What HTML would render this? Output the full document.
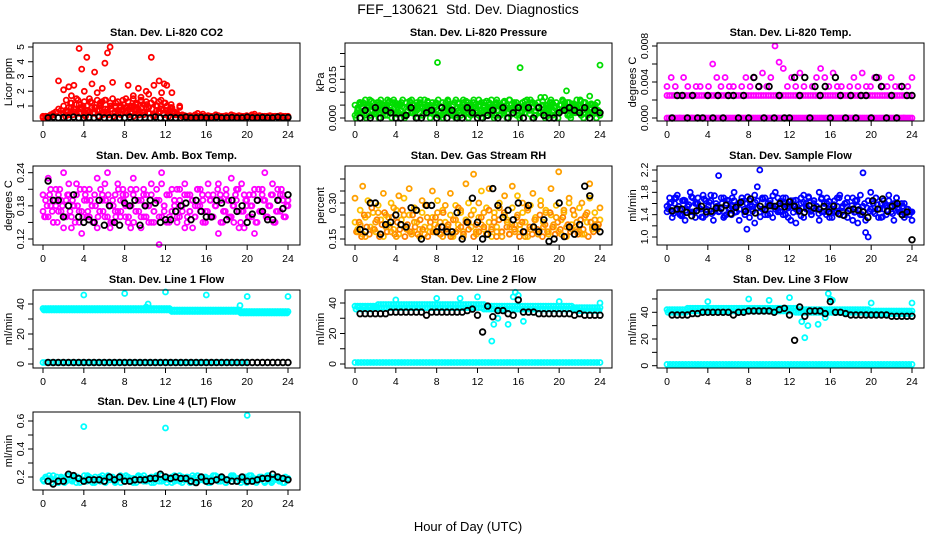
<!DOCTYPE html>
<html><head><meta charset="utf-8">
<style>
html,body{margin:0;padding:0;background:#fff;}
svg{display:block;font-family:"Liberation Sans",Arial,sans-serif;}
</style></head>
<body>
<svg id="chart" width="936" height="540" viewBox="0 0 936 540" xmlns="http://www.w3.org/2000/svg">
<rect width="936" height="540" fill="#fff"/>
<text x="468" y="14" font-size="14" text-anchor="middle" style="white-space:pre">FEF_130621  Std. Dev. Diagnostics</text>
<text x="468" y="531" font-size="13" text-anchor="middle">Hour of Day (UTC)</text>
</svg>
<script>
// ---- data (hours are spread evenly over each series' span) ----
const co2A=[.3,.25,.3,.4,.5,.6,.8,.7,1.0,1.4,.9,1.2,.8,1.5,1.1,.9,1.3,.7,1.5,1.2,.9,1.4,1.0,1.3,1.4,.8,1.2,1.5,1.0,1.3,.9,1.4,.9,1.3,1.0,1.5,1.2,.8,1.4,1.1,1.3,.9,1.2,1.4,1.0,1.3,.8,1.2,1.0,.7,.9,.6,.5,.9,.4,.35,.3,.35,.3,.4,.3,.35,.45,.3,.35,.3,.3,.4,.35,.3,.3,.35,.3,.4,.3,.3,.35,.3,.3,.35,.3,.4,.3,.3,.35,.3,.3,.3,.35,.3,.3,.3,.35,.3,.3,.3];
const co2B=[.2,.3,.2,.3,.4,.6,2.7,.5,2.1,.6,2.3,1.7,2.4,.5,4.9,3.5,2.0,4.3,.6,2.5,3.3,1.9,.7,2.2,3.9,4.6,5.0,2.6,.6,.7,.5,.8,.6,2.4,.5,1.7,.8,2.2,1.6,.6,2.0,1.8,4.3,2.4,.7,2.7,1.9,2.5,2.4,.6,1.9,.5,.4,1.0,.3,.3,.25,.3,.2,.25,.5,.2,.3,.25,.2,.3,.25,.2,.3,.25,.2,.3,.25,.2,.35,.25,.2,.3,.25,.2,.3,.25,.45,.2,.3,.25,.2,.3,.25,.2,.3,.25,.2,.3,.25,.2];
const co2C=[.5,.7,.4,.9,.6,1.1,.5,.8,.4,1.0,.6,.9,.5,.7,1.2,.4,.8,.6,1.0,.5,.9,.7,.4,1.1,.6,.8,.5,1.0,.7,.4,.9,.6,1.1,.5,.8,.4,1.0,.6,.7,1.2,.5,.9,.6,.4];
const co2D=[.3,.6,1.2,.4,.8,1.4,.5,1.0,.3,.7,1.3,.5,.9,.3,1.1,.6,1.4,.4,.8,.3,1.2,.5,1.0,.7,1.5,.4,.9,.3,1.1,.6,1.3,.4,.8,.5,1.2,.3,1.0,.6,1.4,.4,.7,.3,1.1,.5];
const co2K=[.2,.25,.2,.22,.2,.25,.2,.2,.22,.2,.25,.2,.2,.22,.2,.2,.25,.2,.2,.22,.2,.25,.2,.2,.22,.2,.2,.25,.2,.2,.22,.2,.2,.25,.2,.2,.22,.2,.2,.25,.2,.2,.22,.2,.2,.25,.2,.22];

const presA=[.005,.003,.006,.002,.007,.004,.001,.006,.003,.005,.007,.002,.004,.006,.003,.007,.005,.002,.006,.004,.001,.005,.007,.003,.006,.002,.004,.007,.005,.003,.006,.004,.0215,.002,.006,.004,.007,.003,.005,.001,.006,.004,.007,.002,.005,.003,.006,.004,.007,.002,.005,.003,.006,.004,.001,.007,.005,.003,.006,.002,.007,.004,.005,.003,.0195,.006,.002,.005,.007,.004,.003,.006,.008,.002,.005,.004,.007,.003,.006,.002,.005,.004,.0105,.006,.003,.005,.007,.002,.004,.006,.003,.0085,.005,.002,.006,.0205];
const presB=[.001,.004,.002,.006,.003,.005,.001,.004,.002,.006,.003,.005,.001,.004,.006,.002,.005,.003,.001,.006,.004,.002,.005,.003,.006,.001,.004,.002,.005,.003,.006,.001,.004,.002,.005,.003,.001,.006,.004,.002,.005,.003,.006,.001,.004,.002,.005,.003,.006,.001,.004,.002,.005,.003,.001,.006,.004,.002,.005,.003,.006,.001,.004,.002,.005,.003,.006,.001,.004,.002,.005,.003,.001,.006,.004,.002,.005,.003,.006,.001,.004,.002,.005,.003,.001,.006,.004,.002,.005,.003,.006,.001];
const presC=[.002,.006,.004,.001,.005,.007,.003,.002,.006,.004,.005,.001,.007,.003,.002,.006,.004,.005,.007,.001,.003,.006,.002,.004,.005,.007,.001,.003,.006,.004,.002,.005,.007,.001,.003,.006,.004,.002,.005,.007,.003,.001,.006,.004,.002,.005,.007,.003,.001,.006,.004,.002,.005,.007,.003,.006,.001,.004,.002,.005,.007,.003,.006,.001,.004,.002,.005,.007,.003,.006,.001,.004,.002,.005,.008,.003,.006,.001,.004,.002,.005,.007,.003,.006,.001,.004,.002,.005,.007,.003,.006,.001,.004,.002,.005,.003];
const presD=[0,.0035,.0055,.0025,0,.0045,.0065,.0015,.0035,0,.0055,.0025,.0045,.0065,0,.0035,.0015,.0055,.0045,0,.0025,.0065,.0035,.0015,0,.0055,.0045,.0025,.0065,0,.0035,.0015,.0055,.0045,0,.0025,.0065,.0035,.0015,0,.0055,.0045,.0025,.0065,0,.0035,.0015,.0055,.0045,0,.0025,.0065,.0035,.0015,0,.0055,.0045,.0025,.0065,0,.0035,.0015,.0055,.0045,0,.0025,.0065,.0035,.0015,0,.0055,.0045,.0025,.0065,0,.0035,.0015,.0055,.0045,0,.0025,.0065,.0035,.0015,0,.0055,.0045,.0025,.0065,0,.0035,.0015,.0055,.0045,0,.0025];
const presK=[0,.003,0,.004,0,.003,.002,0,0,.001,.004,0,0,.002,.003,0,.004,0,.003,0,0,.004,.002,0,0,.001,.003,0,.004,0,.002,.004,0,.004,0,.004,.001,0,0,.002,.003,.004,.003,.002,.004,0,.003,.002];

const tempA=[0,0,0,0,0,0,0,0,0,0,0,0,0,0,0,0,0,0,0,0,0,0,0,0,0,0,0,0,0,0,0,0,0,0,0,0,0,0,0,0,0,0,0,0,0,0,0,0,0,0,0,0,0,0,0,0,0,0,0,0,0,0,0,0,0,0,0,0,0,0,0,0,0,0,0,0,0,0,0,0,0,0,0,0,0,0,0,0,0,0,0,0,0,0,0,0,0,0,0,0,0,0,0,0,0,0,0,0,0,0,0,0,0,0,0,0,0,0,0,0];
const tempB=[.0025,.0025,.0025,.0025,.0025,.0025,.0025,.0025,.0025,.0025,.0025,.0025,.0025,.0025,.0025,.0025,.0025,.0025,.0025,.0025,.0025,.0025,.0025,.0025,.0025,.0025,.0025,.0025,.0025,.0025,.0025,.0025,.0025,.0025,.0025,.0025,.0025,.0025,.0025,.0025,.0025,.0025,.0025,.0025,.0025,.0025,.0025,.0025,.0025,.0025,.0025,.0025,.0025,.0025,.0025,.0025,.0025,.0025,.0025,.0025,.0025,.0025,.0025,.0025,.0025,.0025,.0025,.0025,.0025,.0025,.0025,.0025,.0025,.0025,.0025,.0025,.0025,.0025,.0025,.0025,.0025,.0025,.0025,.0025,.0025,.0025,.0025,.0025,.0025,.0025,.0025,.0025,.0025,.0025,.0025,.0025,.0025,.0025,.0025,.0025];
const tempC=[.0035,.0045,.0035,0,.0045,.0035,0,.0035,.0035,0,.0035,.006,.0045,.0035,.0045,.0035,.0035,0,.0035,.0045,.0035,.0045,.0035,.005,.0035,.0045,.008,.0062,.0055,.0035,.0045,.0035,.005,.0035,0,.0035,.0045,.0055,.0045,.0035,.005,.0035,.0035,0,.0035,.0045,.0035,.005,.0035,.0035,.0045,.0045,.0035,.0035,.0045,.0035,.0035,0,.0035,.0045];
const tempK=[0,.0025,.0025,0,.0025,0,0,.0025,0,.0025,0,.0025,.0025,0,.0025,0,.0045,.0035,0,.0035,0,.0025,0,0,.0045,.0025,.0045,0,.0035,.0025,.0035,0,.0045,.0025,0,.0025,0,.0025,.0025,0,.0045,.0035,0,.0025,0,.0035,.0025,.0025];

const ambA=[.17,.19,.16,.21,.15,.18,.2,.17,.14,.19,.22,.16,.18,.2,.15,.17,.21,.19,.16,.18,.2,.14,.17,.19,.22,.16,.18,.15,.2,.17,.19,.21,.16,.18,.14,.2,.17,.19,.16,.21,.18,.15,.2,.17,.19,.16,.22,.18,.15,.2,.17,.19,.16,.21,.18,.14,.2,.17,.19,.16,.18,.21,.15,.17,.2,.19,.16,.18,.22,.15,.17,.2,.19,.16,.18,.21,.14,.17,.2,.19,.16,.18,.21,.15,.17,.2,.19,.16,.18,.22,.15,.17,.2,.19,.16,.18];
const ambB=[.2,.16,.23,.18,.15,.21,.17,.19,.24,.16,.2,.14,.18,.22,.17,.13,.19,.16,.21,.18,.15,.23,.17,.2,.16,.24,.14,.19,.17,.22,.16,.2,.18,.15,.21,.23,.17,.19,.14,.2,.16,.18,.22,.15,.19,.11,.24,.17,.2,.16,.21,.18,.15,.19,.17,.22,.16,.2,.14,.18,.21,.17,.19,.15,.22,.16,.2,.18,.13,.19,.17,.21,.16,.23,.15,.19,.17,.22,.14,.18,.2,.16,.13,.19,.17,.21,.24,.16,.18,.2,.15,.21,.17,.2,.16,.19];
const ambC=[.16,.18,.2,.17,.19,.15,.21,.18,.16,.2,.17,.19,.15,.18,.21,.16,.2,.17,.19,.15,.18,.16,.21,.17,.19,.2,.15,.18,.16,.21,.17,.19,.2,.16,.18,.15,.21,.17,.19,.16,.2,.18,.15,.17,.21,.19,.16,.18,.2,.15,.17,.19,.21,.16,.18,.2,.15,.17,.19,.16,.21,.18,.2,.15,.17,.19,.16,.18,.21,.2,.15,.17,.19,.16,.18,.2,.21,.15,.17,.19,.16,.18,.2,.15,.21,.17,.19,.16,.18,.2,.15,.17,.19,.21,.16,.18];
const ambK=[.225,.19,.19,.16,.18,.2,.16,.15,.155,.15,.19,.145,.18,.15,.145,.185,.18,.19,.145,.18,.19,.185,.15,.155,.155,.17,.18,.185,.155,.19,.17,.16,.16,.19,.185,.155,.19,.17,.18,.15,.165,.19,.17,.155,.155,.19,.175,.2];

const rhA=[.22,.19,.27,.17,.24,.31,.2,.26,.18,.29,.23,.16,.25,.21,.3,.19,.27,.17,.23,.32,.2,.25,.18,.28,.22,.16,.26,.2,.29,.18,.24,.21,.31,.17,.27,.22,.19,.25,.16,.29,.21,.26,.18,.23,.3,.2,.27,.17,.24,.35,.19,.28,.22,.16,.26,.2,.3,.18,.25,.23,.17,.28,.21,.33,.19,.26,.22,.16,.29,.2,.24,.18,.31,.22,.27,.17,.25,.2,.29,.18,.23,.26,.16,.3,.21,.25,.19,.28,.17,.24,.22,.32,.19,.26,.2,.23];
const rhB=[.32,.18,.21,.37,.16,.25,.3,.19,.22,.26,.17,.34,.2,.24,.18,.28,.16,.33,.21,.25,.19,.36,.17,.22,.27,.19,.31,.17,.24,.2,.35,.18,.26,.22,.16,.29,.2,.34,.17,.23,.19,.27,.16,.38,.22,.25,.42,.18,.3,.21,.26,.17,.36,.2,.24,.18,.28,.16,.33,.22,.2,.37,.18,.25,.21,.3,.16,.27,.19,.34,.23,.17,.29,.2,.26,.18,.36,.21,.24,.43,.17,.27,.2,.32,.19,.25,.22,.18,.3,.17,.26,.38,.2,.23,.19,.28];
const rhC=[.18,.22,.16,.25,.2,.17,.28,.19,.23,.16,.21,.26,.18,.2,.24,.17,.22,.19,.27,.16,.21,.18,.25,.2,.17,.23,.19,.29,.16,.22,.18,.24,.2,.17,.26,.19,.21,.16,.23,.18,.28,.2,.17,.22,.19,.25,.16,.21,.18,.24,.2,.17,.27,.19,.22,.16,.23,.18,.26,.2,.17,.21,.19,.24,.16,.22,.18,.28,.2,.17,.23,.19,.25,.16,.21,.18,.26,.2,.17,.22,.19,.24,.16,.21,.18,.27,.2,.17,.23,.19,.25,.16,.22,.18,.2,.21];
const rhK=[.19,.18,.3,.3,.17,.21,.22,.25,.21,.2,.28,.27,.15,.29,.29,.18,.2,.18,.18,.26,.15,.22,.32,.22,.15,.17,.36,.29,.24,.27,.23,.3,.18,.29,.2,.18,.23,.14,.15,.3,.16,.2,.17,.21,.37,.33,.2,.18];

const flowA=[1.55,1.7,1.45,1.6,1.75,1.5,1.4,1.65,1.55,1.8,1.45,1.6,1.7,1.5,1.35,1.65,1.55,1.75,1.45,1.6,2.1,1.5,1.7,1.4,1.65,1.55,1.8,1.45,1.6,1.7,1.5,1.14,1.65,1.55,1.75,1.9,2.2,1.5,1.7,1.4,1.65,1.55,1.8,1.45,1.6,1.7,1.5,1.35,1.65,1.55,1.25,1.45,1.6,1.75,1.5,1.7,1.4,1.65,1.55,1.8,1.45,1.6,1.7,1.5,1.35,1.65,1.55,1.75,1.45,1.6,1.7,1.5,1.3,1.65,1.55,1.75,2.15,1.08,1.0,1.8,1.6,1.7,1.5,1.35,1.65,1.55,1.75,1.45,1.6,1.7,1.5,1.4,1.6,1.5,1.45,1.3];
const flowB=[1.45,1.6,1.35,1.7,1.5,1.4,1.65,1.3,1.55,1.45,1.7,1.35,1.6,1.5,1.75,1.4,1.55,1.65,1.3,1.5,1.45,1.7,1.35,1.6,1.5,1.4,1.65,1.55,1.3,1.7,1.45,1.6,1.35,1.5,1.25,1.65,1.45,1.7,1.4,1.55,1.6,1.35,1.5,1.7,1.45,1.6,1.4,1.55,1.3,1.65,1.5,1.45,1.7,1.35,1.6,1.5,1.4,1.65,1.55,1.3,1.7,1.45,1.6,1.35,1.5,1.45,1.7,1.4,1.55,1.6,1.35,1.5,1.7,1.45,1.25,1.4,1.55,1.3,1.65,1.5,1.45,1.7,1.35,1.6,1.5,1.4,1.65,1.55,1.3,1.7,1.45,1.6,1.35,1.5,1.4,1.45];
const flowC=[1.5,1.62,1.42,1.7,1.55,1.38,1.66,1.48,1.58,1.72,1.44,1.6,1.52,1.36,1.68,1.5,1.62,1.42,1.74,1.55,1.46,1.6,1.38,1.66,1.52,1.7,1.44,1.58,1.5,1.64,1.4,1.72,1.56,1.46,1.62,1.52,1.36,1.68,1.5,1.6,1.42,1.74,1.55,1.48,1.64,1.4,1.7,1.52,1.58,1.44,1.66,1.5,1.38,1.62,1.55,1.72,1.46,1.6,1.5,1.42,1.68,1.54,1.4,1.64,1.5,1.58,1.44,1.7,1.52,1.38,1.62,1.5,1.56,1.44,1.66,1.5,1.4,1.6,1.52,1.46,1.64,1.42,1.58,1.5,1.36,1.6,1.48,1.55,1.42,1.6,1.5,1.45,1.55,1.4,1.5,1.45];
const flowK=[1.47,1.5,1.5,1.44,1.38,1.47,1.55,1.45,1.46,1.52,1.52,1.57,1.42,1.53,1.62,1.46,1.68,1.43,1.55,1.49,1.56,1.55,1.6,1.54,1.63,1.55,1.47,1.44,1.56,1.52,1.5,1.55,1.45,1.55,1.42,1.39,1.47,1.5,1.48,1.45,1.35,1.65,1.5,1.68,1.46,1.55,1.6,1.4,1.45,.95];

const l1Top=[37,37,37,37,37,37,37,37,37,37,37,37,37,37,37,37,37,37,37,37,37,37,37,37,37,37,37,37,37,37,37,37,37,37,37,37,37,37,37,37,38,37,37,37,37,37,37,37,37,37,36,36,36,36,36,36,36,36,36,36,36,36,36,36,36,36,36,36,36,36,36,36,36,36,36,36,36,35,35,35,35,35,35,35,35,35,35,35,35,35,35,35,35,35,35,35];
const l1Top2=[36,36,36,36,36,36,36,36,36,36,36,36,36,36,36,36,36,36,36,36,36,36,36,36,36,36,36,36,36,36,36,36,36,36,36,36,36,36,36,36,36,36,36,36,36,36,36,36,36,36,35,35,35,35,35,35,35,35,35,35,35,35,35,35,35,35,35,35,35,35,35,35,35,35,35,35,35,34,34,34,34,34,34,34,34,34,34,34,34,34,34,34,34,34,34,34];
const l1Low=[1,1,1,1,1,1,1,1,1,1,1,1,1,1,1,1,1,1,1,1,1,1,1,1,1,1,1,1,1,1,1,1,1,1,1,1,1,1,1,1,1,1,1,1,1,1,1,1,1,1,1,1,1,1,1,1,1,1,1,1,1,1,1,1,1,1,1,1,1,1,1,1,1,1,1,1,1,1,1,1];
const l1K=[1,1,1,1,1,1,1,1,1,1,1,1,1,1,1,1,1,1,1,1,1,1,1,1,1,1,1,1,1,1,1,1,1,1,1,1,1,1,1,1,1,1,1,1,1,1,1,1];
const l1OutHr=[4,8,12,16,20,24,10.3,19.3];
const l1OutV=[46,47,48,46,45,45,40,39];

const l2Top=[38,38,38,38,38,38,38,38,38,39,39,39,39,39,39,39,39,39,39,39,39,39,39,39,39,39,39,39,39,39,39,39,39,39,39,39,39,39,39,39,39,39,39,39,39,39,39,39,39,39,39,38,38,38,38,38,38,38,38,38,38,38,38,38,38,38,38,38,38,38,38,38,38,38,38,38,38,38,38,38,38,38,38,38,38,37,37,37,37,37,37,37,37,37,37,37];
const l2Top2=[36,37,36,37,36,37,36,37,37,37,37,37,37,37,37,37,37,37,37,37,37,37,37,37,37,37,37,37,37,37,37,37,37,37,37,37,37,37,37,37,37,37,37,37,37,37,37,37,37,37,36,36,36,36,36,36,36,36,36,36,36,36,36,36,36,36,36,36,36,36,36,36,36,36,36,36,36,36,36,36,36,36,36,36,36,36,36,35,35,35,35,35,35,35,35,35];
const l2Low=[1,1,1,1,1,1,1,1,1,1,1,1,1,1,1,1,1,1,1,1,1,1,1,1,1,1,1,1,1,1,1,1,1,1,1,1,1,1,1,1,1,1,1,1,1,1,1,1,1,1,1,1,1,1,1,1,1,1,1,1,1,1,1,1,1,1,1,1,1,1,1,1,1,1,1,1,1,1,1,1];
const l2K=[33,33,33,33,33,33,34,34,34,34,34,34,34,32,34,34,34,34,34,34,34,35,36,32,21,38,31,35,35,33,32,42,34,34,34,33,33,33,33,33,33,33,32,33,32,32,32,32];
const l2OutHr=[4,8,10.3,12,13.4,13.6,14,15,15.5,15.7,16,16.5,20,24];
const l2OutV=[42,43,43,44,15,26,30,26,44,47,45,28,41,40];

const l3Top=[42,42,42,42,42,42,42,42,43,43,43,43,43,43,43,43,43,43,43,43,43,43,43,43,43,43,43,43,43,43,43,43,43,43,43,43,43,43,43,43,43,43,43,43,43,43,43,43,43,43,43,42,42,42,42,42,42,42,42,42,42,42,42,42,42,42,42,42,42,42,42,42,42,42,42,42,42,42,42,41,41,41,41,41,41,41,41,41,41,41,41,41,41,41,41,41];
const l3Top2=[40,40,40,40,40,40,40,40,41,41,41,41,41,41,41,41,41,41,41,41,41,41,41,41,41,41,41,41,41,41,41,41,41,41,41,41,41,41,41,41,41,41,41,41,41,41,41,41,41,41,40,40,40,40,40,40,40,40,40,40,40,40,40,40,40,40,40,40,40,40,40,40,40,40,40,40,40,40,39,39,39,39,39,39,39,39,39,39,39,39,39,39,39,39,39,39];
const l3Low=[1,1,1,1,1,1,1,1,1,1,1,1,1,1,1,1,1,1,1,1,1,1,1,1,1,1,1,1,1,1,1,1,1,1,1,1,1,1,1,1,1,1,1,1,1,1,1,1,1,1,1,1,1,1,1,1,1,1,1,1,1,1,1,1,1,1,1,1,1,1,1,1,1,1,1,1,1,1,1,1];
const l3K=[38,38,38,38,39,39,40,40,40,40,40,40,38,40,40,41,41,41,41,41,40,42,43,38,19,44,37,41,41,41,39,48,40,40,39,38,38,38,38,38,38,38,38,37,37,37,37,37];
const l3OutHr=[4,8,10,12,13.2,13.5,13.8,14.8,15.5,15.8,16,16.2,20,24];
const l3OutV=[48,50,49,51,33,21,30,31,36,54,50,49,47,47];

const l4Band=[.18,.2,.17,.19,.21,.18,.16,.2,.19,.17,.21,.18,.2,.16,.19,.18,.21,.17,.2,.19,.16,.18,.2,.21,.17,.19,.18,.2,.16,.19,.21,.18,.17,.2,.19,.16,.18,.21,.2,.17,.19,.18,.2,.16,.21,.19,.17,.18,.2,.19,.16,.21,.18,.17,.2,.19,.18,.16,.21,.2,.17,.19,.18,.2,.16,.19,.21,.18,.17,.2,.19,.16,.18,.21,.2,.17,.19,.18,.2,.16,.21,.19,.17,.18,.2,.19,.16,.21,.18,.17,.2,.19,.18,.16,.2,.19];
const l4Band2=[.17,.19,.21,.16,.18,.2,.17,.19,.16,.21,.18,.17,.19,.2,.16,.18,.17,.21,.19,.16,.2,.18,.17,.19,.16,.21,.2,.18,.17,.19,.16,.2,.21,.18,.17,.19,.16,.2,.18,.21,.17,.19,.16,.18,.2,.17,.21,.19,.16,.18,.2,.17,.19,.21,.16,.18,.2,.17,.19,.16,.21,.18,.2,.17,.19,.16,.18,.21,.2,.17,.19,.16,.18,.2,.21,.17,.19,.16,.18,.2,.17,.21,.19,.16,.18,.2,.17,.19,.21,.16,.18,.2,.17,.19,.16,.18];
const l4K=[.17,.15,.17,.17,.22,.21,.19,.17,.18,.18,.18,.17,.2,.18,.2,.17,.17,.18,.18,.18,.19,.19,.22,.2,.19,.2,.19,.19,.17,.16,.2,.17,.17,.18,.2,.18,.17,.17,.2,.17,.17,.18,.19,.19,.22,.2,.19,.18];
const l4OutHr=[4,12,20];
const l4OutV=[.56,.55,.64];

// ---- layout ----
const NS="http://www.w3.org/2000/svg";
const svg=document.getElementById('chart');
const colL=[33,345,657], colR=[300,612,924];
const rowT=[43,166,290,412], rowB=[121,245,368,490];
function mk(tag,attrs,parent){const e=document.createElementNS(NS,tag);for(const k in attrs)e.setAttribute(k,attrs[k]);(parent||svg).appendChild(e);return e;}
function even(n,a,b){const r=[];for(let i=0;i<n;i++)r.push(n>1?a+(b-a)*i/(n-1):a);return r;}

const panels=[
 {name:'co2',title:'Stan. Dev. Li-820 CO2',ylab:'Licor ppm',c:0,r:0,ya:[1,106,5,47],ticks:[1,2,3,4,5],labels:['1','2','3','4','5'],
  series:[{v:co2A,col:'#ff0000'},{v:co2B,col:'#ff0000'},{v:co2C,col:'#ff0000',h0:2,h1:13},{v:co2D,col:'#ff0000',h0:2.2,h1:12.8},{v:co2K,col:'#000',h0:.5,k:1}]},
 {name:'pressure',title:'Stan. Dev. Li-820 Pressure',ylab:'kPa',c:1,r:0,ya:[0,118,.015,79.3],ticks:[0,.005,.01,.015,.02,.025],labels:['0.000','','','0.015','',''],
  series:[{v:presB,col:'#00dd00'},{v:presD,col:'#00dd00',h0:.1,h1:23.9},{v:presC,col:'#00dd00',h0:.2,h1:23.8},{v:presA,col:'#00dd00'},{v:presK,col:'#000',h0:.5,k:1}]},
 {name:'temp',title:'Stan. Dev. Li-820 Temp.',ylab:'degrees C',c:2,r:0,ya:[0,118,.008,46],ticks:[0,.002,.004,.006,.008],labels:['0.000','','0.004','','0.008'],
  series:[{v:tempA,col:'#ff00ff'},{v:tempB,col:'#ff00ff'},{v:tempC,col:'#ff00ff'},{v:tempK,col:'#000',h0:.5,k:1}]},
 {name:'amb-box-temp',title:'Stan. Dev. Amb. Box Temp.',ylab:'degrees C',c:0,r:1,ya:[.12,239,.24,172.7],ticks:[.12,.15,.18,.21,.24],labels:['0.12','','0.18','','0.24'],
  series:[{v:ambA,col:'#ff00ff'},{v:ambB,col:'#ff00ff'},{v:ambC,col:'#ff00ff',h0:.15,h1:23.85},{v:ambK,col:'#000',h0:.5,k:1}]},
 {name:'gas-stream-rh',title:'Stan. Dev. Gas Stream RH',ylab:'percent',c:1,r:1,ya:[.15,239,.3,203],ticks:[.15,.2,.25,.3,.35,.4],labels:['0.15','','','0.30','',''],
  series:[{v:rhA,col:'#ffc000'},{v:rhC,col:'#ff8000',h0:.15,h1:23.85},{v:rhB,col:'#ffa000'},{v:rhK,col:'#000',h0:.5,k:1}]},
 {name:'sample-flow',title:'Stan. Dev. Sample Flow',ylab:'ml/min',c:2,r:1,ya:[1,237,2.2,170],ticks:[1,1.2,1.4,1.6,1.8,2,2.2],labels:['1.0','','1.4','','1.8','','2.2'],
  series:[{v:flowB,col:'#0000ff'},{v:flowC,col:'#0000ff',h0:.15,h1:23.85},{v:flowA,col:'#0000ff'},{v:flowK,col:'#000',h0:.5,k:1}]},
 {name:'line1-flow',title:'Stan. Dev. Line 1 Flow',ylab:'ml/min',c:0,r:2,ya:[0,364,40,304],ticks:[0,10,20,30,40],labels:['0','','20','','40'],
  series:[{v:l1Top,col:'#00ffff'},{v:l1Top2,col:'#00ffff',h0:.1,h1:23.9},{v:l1Low,col:'#00ffff',h0:0,h1:20},{v:l1K,col:'#000',h0:.5,k:1},{v:l1OutV,hr:l1OutHr,col:'#00ffff'}]},
 {name:'line2-flow',title:'Stan. Dev. Line 2 Flow',ylab:'ml/min',c:1,r:2,ya:[0,364,40,303],ticks:[0,10,20,30,40],labels:['0','','20','','40'],
  series:[{v:l2Top,col:'#00ffff'},{v:l2Top2,col:'#00ffff',h0:.1,h1:23.9},{v:l2Low,col:'#00ffff',h0:0,h1:24},{v:l2OutV,hr:l2OutHr,col:'#00ffff'},{v:l2K,col:'#000',h0:.5,k:1}]},
 {name:'line3-flow',title:'Stan. Dev. Line 3 Flow',ylab:'ml/min',c:2,r:2,ya:[0,365.7,40,312.3],ticks:[0,10,20,30,40,50],labels:['0','','20','','40',''],
  series:[{v:l3Top,col:'#00ffff'},{v:l3Top2,col:'#00ffff',h0:.1,h1:23.9},{v:l3Low,col:'#00ffff',h0:0,h1:24},{v:l3OutV,hr:l3OutHr,col:'#00ffff'},{v:l3K,col:'#000',h0:.5,k:1}]},
 {name:'line4-flow',title:'Stan. Dev. Line 4 (LT) Flow',ylab:'ml/min',c:0,r:3,ya:[.2,477,.6,421],ticks:[.2,.3,.4,.5,.6],labels:['0.2','','0.4','','0.6'],
  series:[{v:l4Band,col:'#00ffff'},{v:l4Band2,col:'#00ffff',h0:.1,h1:23.9},{v:l4OutV,hr:l4OutHr,col:'#00ffff'},{v:l4K,col:'#000',h0:.5,k:1}]}
];

panels.forEach(p=>{
  const L=colL[p.c],R=colR[p.c],T=rowT[p.r],B=rowB[p.r];
  const x0=L+10,x24=R-12;
  const xs=h=>x0+(x24-x0)*h/24;
  const [va,pa,vb,pb]=p.ya;
  const ys=v=>pa+(pb-pa)*(v-va)/(vb-va);
  const g=mk('g',{});
  
  
  const t=mk('text',{x:(L+R)/2,y:T-7,'font-size':11,'font-weight':'bold','text-anchor':'middle'},g);
  t.textContent=p.title;
  
  
  const pts=mk('g',{fill:'none'},g);
  
  
  p.series.forEach(s=>{
    const hrs=s.hr?s.hr:even(s.v.length,s.h0!==undefined?s.h0:0,s.h1!==undefined?s.h1:24);
    s.v.forEach((v,i)=>{
      const c=mk('circle',{cx:xs(hrs[i]).toFixed(1),cy:ys(v).toFixed(1),r:s.k?2.8:2.5,stroke:s.col,'stroke-width':s.k?1.8:1.8},pts);
      
      
    });
  });
  const bx=mk('rect',{x:L,y:T,width:R-L,height:B-T,fill:'none',stroke:'#000','stroke-width':1},g);
  
  
  const xa=mk('g',{stroke:'#000','stroke-width':1},g);
  
  
  [0,4,8,12,16,20,24].forEach(h=>{
    mk('line',{x1:xs(h),x2:xs(h),y1:B,y2:B+5},xa);
    const tl=mk('text',{x:xs(h),y:B+17,'font-size':10.5,'text-anchor':'middle',stroke:'none'},xa);
    tl.textContent=String(h);
    
    
  });
  const ya=mk('g',{stroke:'#000','stroke-width':1},g);
  
  
  mk('line',{x1:L,x2:L,y1:ys(p.ticks[0]),y2:ys(p.ticks[p.ticks.length-1])},ya);
  p.ticks.forEach((tv,i)=>{
    const y=ys(tv);
    mk('line',{x1:L-5,x2:L,y1:y,y2:y},ya);
    if(p.labels[i]){
      const tl=mk('text',{x:0,y:0,'font-size':10.5,'text-anchor':'middle',stroke:'none',transform:`translate(${L-9},${y}) rotate(-90)`},ya);
      tl.textContent=p.labels[i];
      
      
    }
  });
  const yt=mk('text',{x:0,y:0,'font-size':11,'text-anchor':'middle',transform:`translate(${L-21},${(T+B)/2}) rotate(-90)`},g);
  yt.textContent=p.ylab;
  
  
});
</script>
</body></html>
